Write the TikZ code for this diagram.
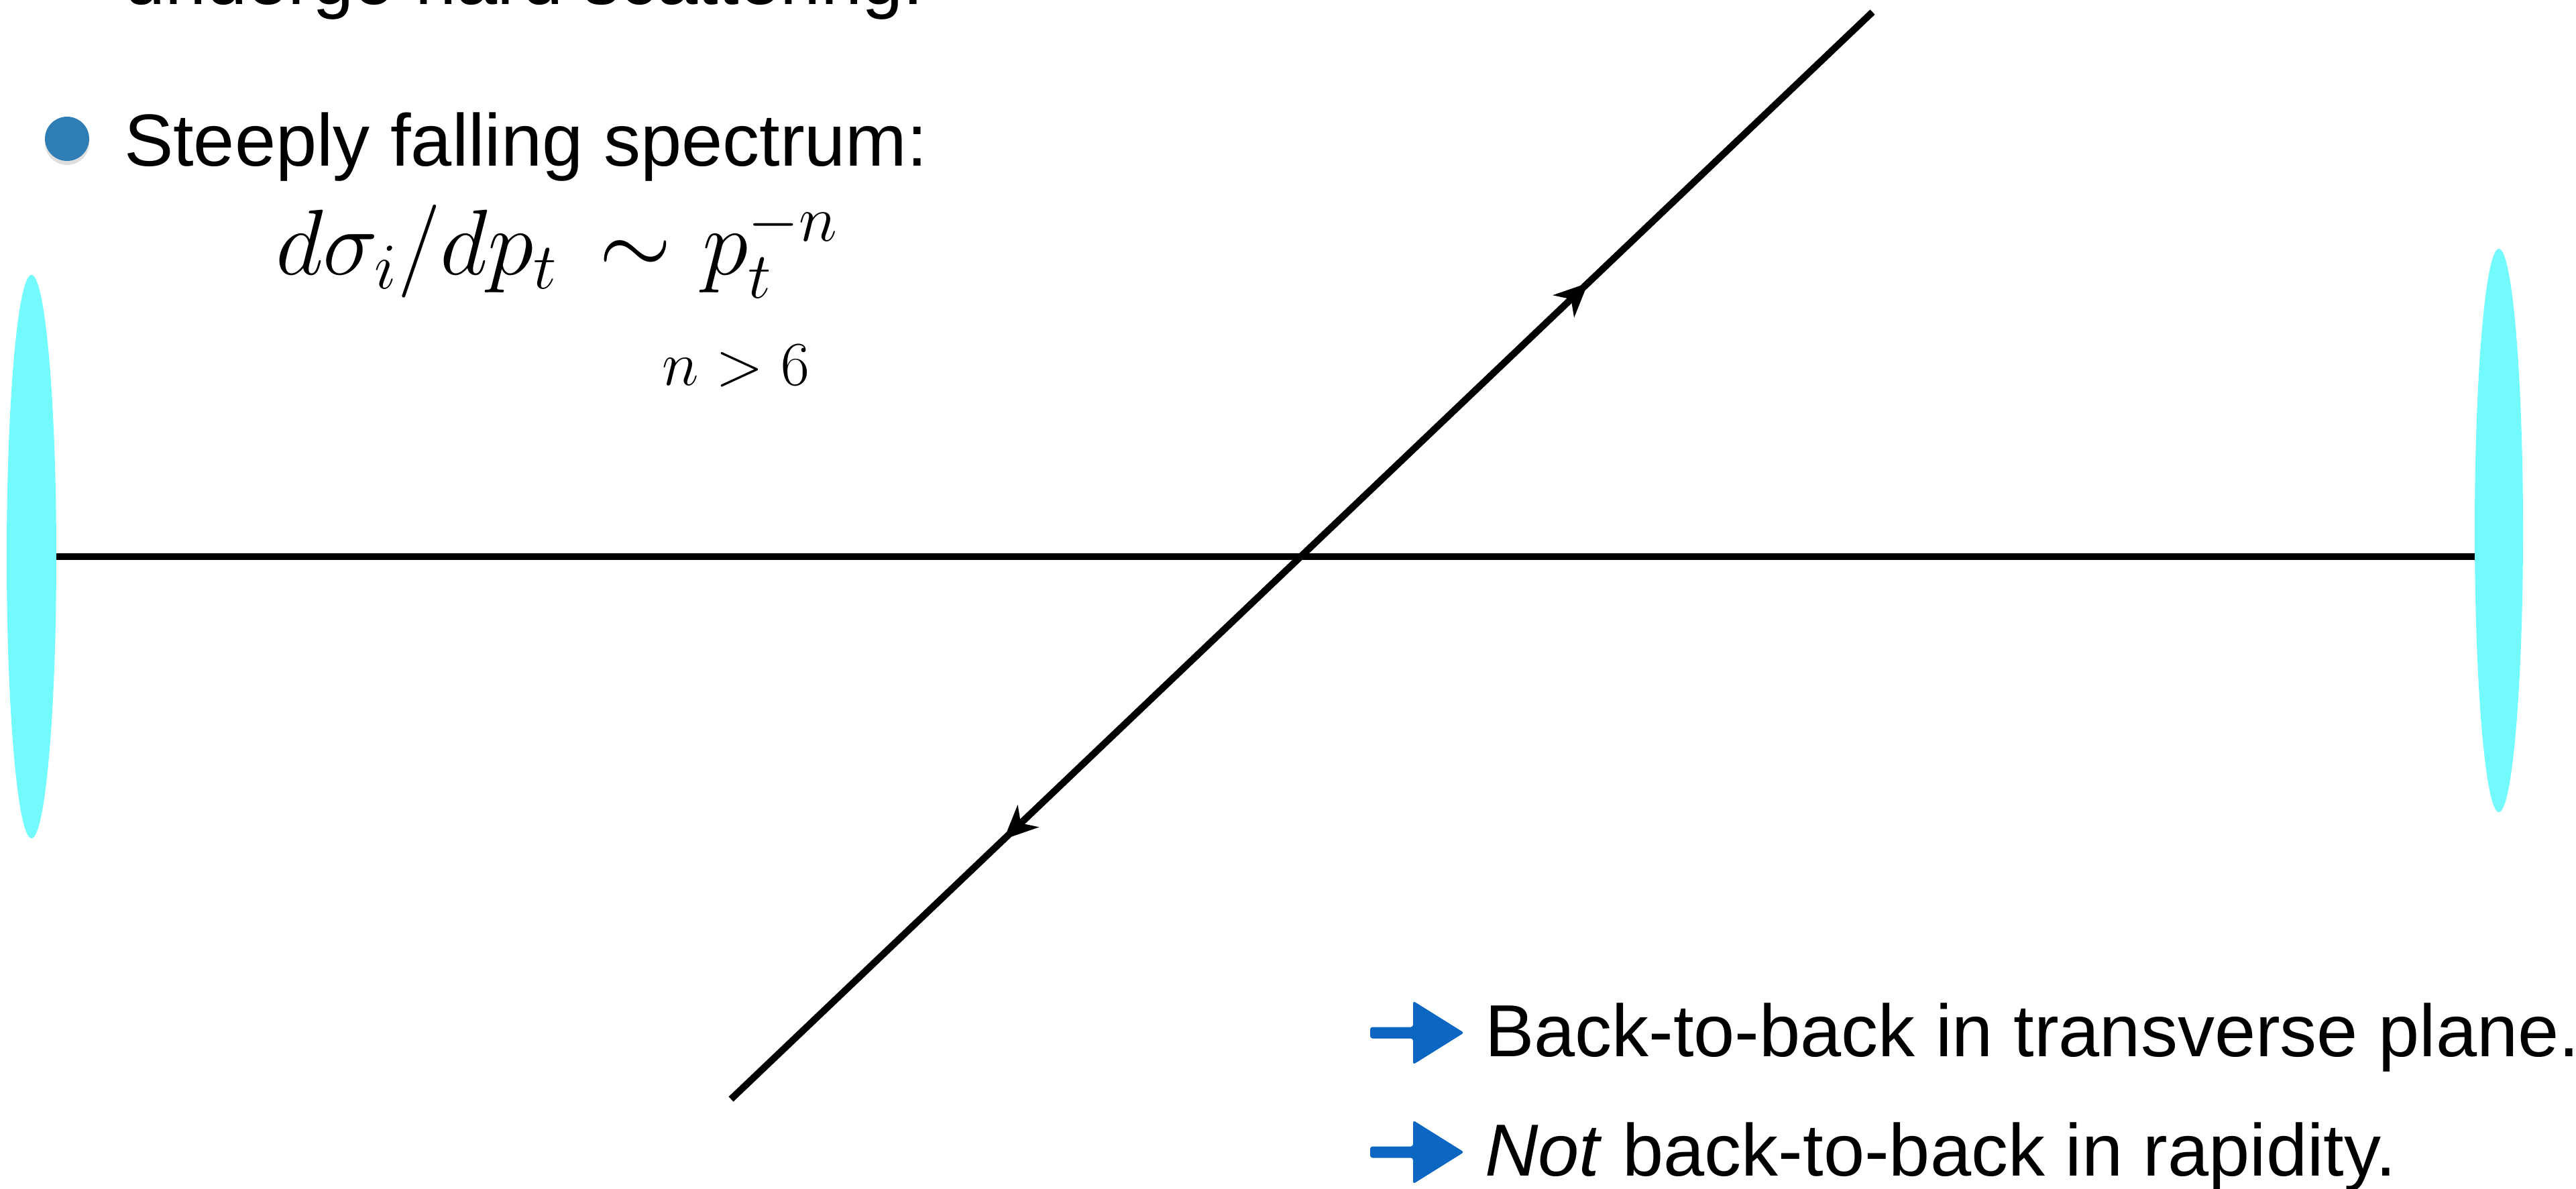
\RequirePackage{fix-cm}
\documentclass[tikz,border=0pt]{standalone}
\usepackage{amsmath}
\usepackage{fontspec}
\newfontfamily\slidefont{Liberation Sans}
\usepackage{tikz}
\usetikzlibrary{arrows.meta,positioning,shapes.geometric,decorations.markings,shadows}
\definecolor{beamcyan}{RGB}{114,250,253}
\definecolor{dotblue}{RGB}{46,126,181}
\definecolor{handblue}{RGB}{13,102,193}

\begin{document}
\begin{tikzpicture}[
  >=Latex,
  every node/.style={inner sep=0pt, outer sep=0pt},
  slide/.style={font=\slidefont\fontsize{31.3}{37}\selectfont, anchor=base west},
  eqn/.style={font=\fontsize{39.5}{47}\selectfont, anchor=base west},
  beam/.style={ellipse, fill=beamcyan, minimum width=0.74cm, minimum height=8.4cm},
  track/.style={line width=2.9pt, black},
  jet/.style={track, postaction=decorate, decoration={markings,
      mark=at position 0.751 with {\arrow{Stealth[length=0.5cm,width=0.45cm,inset=0.15cm]}},
      mark=at position 0.239 with {\arrowreversed{Stealth[length=0.5cm,width=0.45cm,inset=0.15cm]}}}},
  hand/.style={fill=handblue, rounded corners=1pt}
]
  \useasboundingbox (0,0) rectangle (38.41,-17.73);
  \clip (0,0) rectangle (38.41,-17.73);

  \node[slide] (scatter) at (1.85,-0.07) {undergo hard scattering.};
  \node[circle, fill=dotblue, minimum size=0.66cm,
        drop shadow={shadow xshift=0pt, shadow yshift=-0.06cm, opacity=0.25}] (dot) at (1.00,-2.07) {};
  \node[slide] (steep) at (1.85,-2.48) {Steeply falling spectrum:};
  \node[eqn] (spectrum) at (4.11,-4.10) {$d\sigma_i/dp_t \mkern3mu\sim\mkern1mu p_t^{-n}$};
  \node[font=\fontsize{26.5}{32}\selectfont, anchor=base west] (power) at (9.87,-5.75) {$n>6$};

  \node[beam] (lbeam) at (0.47,-8.30) {};
  \node[beam, minimum width=0.72cm] (rbeam) at (37.26,-7.91) {};
  \draw[track] (lbeam.east) -- (lbeam.east -| rbeam.west);

  \coordinate (jetlo) at (10.90,-16.39);
  \coordinate (jethi) at (27.92,-0.18);
  \draw[jet] (jetlo) -- (jethi);

  \node[slide] (backplane) at (22.14,-15.75) {Back-to-back in transverse plane.};
  \node[slide] (backrap) at (22.14,-17.53) {\textit{Not} back-to-back in rapidity.};

  \fill[hand] ([shift={(-1.71,0.35)}]backplane.base west) ++(0,0.085) -- ++(0.64,0) -- ++(0,0.39)
    -- ++(0.76,-0.475) -- ++(-0.76,-0.475) -- ++(0,0.39) -- ++(-0.64,0) -- cycle;
  \fill[hand] ([shift={(-1.71,0.35)}]backrap.base west) ++(0,0.085) -- ++(0.64,0) -- ++(0,0.39)
    -- ++(0.76,-0.475) -- ++(-0.76,-0.475) -- ++(0,0.39) -- ++(-0.64,0) -- cycle;
\end{tikzpicture}
\end{document}
